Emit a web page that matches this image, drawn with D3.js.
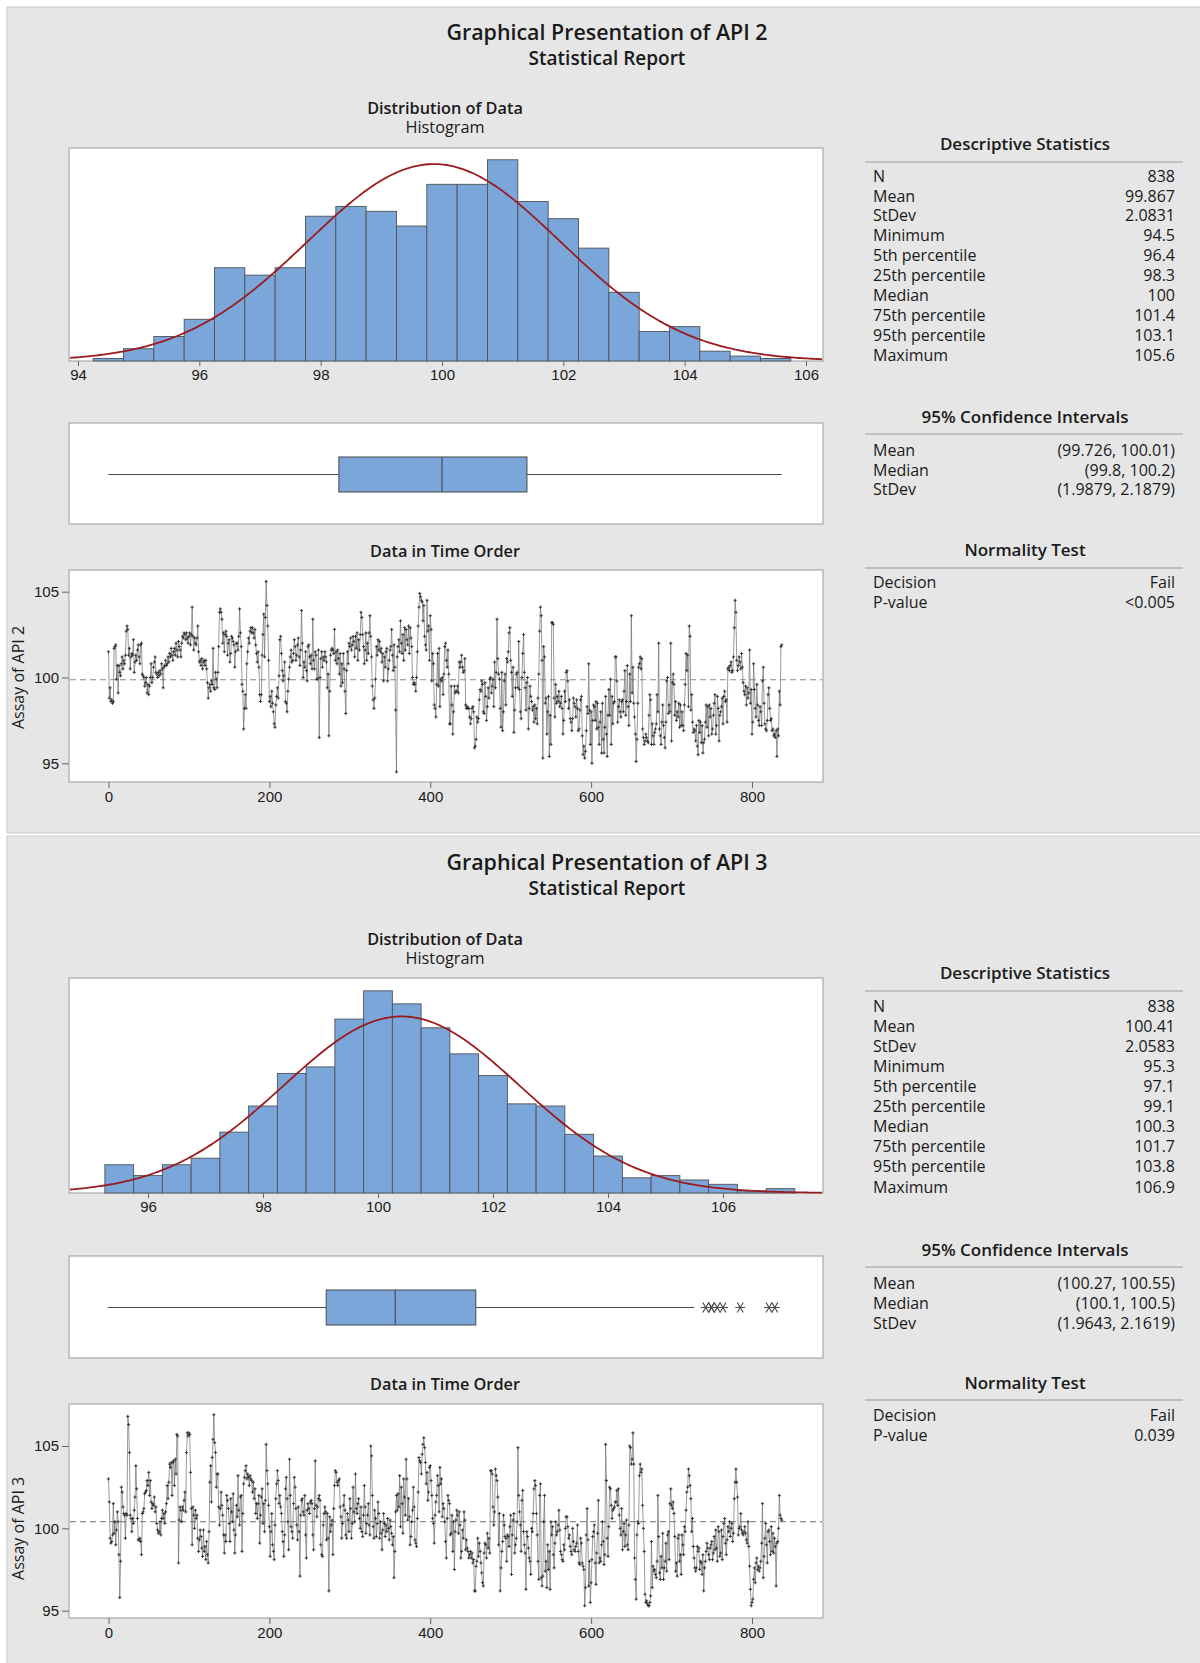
<!DOCTYPE html>
<html>
<head>
<meta charset="utf-8">
<script src="https://cdn.jsdelivr.net/npm/d3@7"></script>
<style>
body { margin: 0; background: #fff; }
svg { display: block; font-family: "Segoe UI", "Open Sans", "Noto Sans", sans-serif; }
</style>
</head>
<body>
<svg id="chart" width="1200" height="1663"></svg>
<script>
// ---- data ---------------------------------------------------------------
const api2Values = [
101.5,98.8,99.4,98.6,98.7,98.5,98.6,101.7,101.8,101.9,
99.9,100.7,99.1,100.7,100.3,100.1,100.8,101.2,100.5,101.0,
100.8,101.3,102.7,103.0,102.8,101.3,101.7,100.5,101.2,101.4,
101.3,102.2,100.3,100.9,101.3,101.0,101.6,101.9,101.2,100.8,
101.9,102.0,100.2,100.1,100.0,99.5,99.7,100.0,99.1,99.6,
99.0,99.5,100.0,100.8,99.7,100.0,100.6,100.9,101.2,100.3,
100.2,100.0,100.3,100.1,100.4,100.2,100.8,100.5,99.4,100.6,
100.7,101.0,100.7,100.8,101.2,100.9,101.4,101.2,101.7,101.3,
101.0,101.5,101.7,101.3,102.0,101.6,101.2,102.1,101.8,101.6,
101.2,102.0,102.4,102.3,102.6,102.5,102.2,102.6,102.3,102.0,
102.4,102.6,101.9,102.5,104.1,102.4,101.6,102.3,102.0,101.9,
102.3,103.0,101.5,100.9,101.0,100.7,101.1,100.5,100.9,101.0,
100.7,101.0,100.5,99.7,98.8,99.4,99.6,99.2,99.8,99.6,
101.7,99.4,99.3,100.3,99.9,99.4,100.3,101.8,103.8,104.0,
103.8,103.4,102.0,102.6,101.5,102.5,102.7,102.4,101.3,102.0,
102.2,100.9,101.4,102.4,102.3,102.1,101.9,100.6,101.5,102.0,
102.0,101.6,102.4,104.0,102.6,101.8,99.6,99.2,97.0,98.2,
99.0,98.2,100.8,101.5,102.3,102.0,102.7,102.9,102.6,102.9,
102.6,102.3,102.8,101.9,101.4,100.9,101.5,100.6,99.0,98.6,
99.0,101.3,102.5,103.7,101.2,103.5,105.6,104.2,103.0,101.0,
98.6,98.9,98.3,99.2,98.5,98.0,97.3,97.1,98.4,98.9,
99.4,98.8,100.1,102.2,102.4,101.4,100.4,99.8,100.1,100.9,
98.6,98.5,98.0,99.2,99.9,100.6,101.2,101.6,100.9,101.0,
101.4,102.2,101.8,101.0,101.3,101.9,102.3,101.2,100.7,101.6,
103.9,102.0,100.0,100.9,100.6,101.5,100.4,99.8,101.8,101.9,
101.2,100.8,101.3,100.5,103.4,101.0,100.5,101.5,101.3,99.9,
99.9,101.6,96.5,100.0,101.1,101.5,100.6,101.2,101.0,101.5,
101.2,100.9,99.4,100.2,96.6,99.2,101.3,101.6,101.7,101.6,
101.4,102.8,101.0,101.5,100.8,101.6,101.1,100.2,101.4,99.5,
100.8,99.7,101.4,100.5,99.2,97.9,100.4,101.5,100.8,102.0,
101.8,102.3,101.6,101.9,102.4,102.1,101.2,102.4,101.7,102.6,
101.0,102.2,101.6,102.5,103.8,103.5,102.5,101.8,100.8,101.6,
102.6,101.0,102.0,101.4,102.6,103.6,102.4,101.2,99.5,98.7,
98.2,98.8,99.9,101.8,101.3,102.2,101.6,102.1,101.5,101.7,
100.9,101.4,99.8,101.2,100.6,101.5,101.7,99.8,100.5,101.0,
101.6,101.8,102.8,101.3,100.4,101.9,100.6,98.1,94.5,101.2,
101.8,102.2,101.5,103.3,102.0,101.4,102.5,101.0,102.9,101.6,
102.8,102.2,101.9,103.0,101.4,102.9,102.3,101.8,100.0,99.6,
99.7,99.6,99.2,100.0,101.5,103.0,104.1,104.9,104.7,104.5,
104.4,103.3,104.2,102.4,101.9,101.6,104.5,102.7,103.0,101.0,
103.6,102.8,99.8,101.4,100.8,98.4,98.2,97.7,99.6,101.4,
99.5,101.7,98.3,99.9,99.8,100.0,99.0,100.2,101.8,102.0,
101.0,100.6,101.6,100.2,97.3,97.3,99.5,98.4,96.7,98.0,
99.5,99.1,99.2,99.2,99.5,99.1,100.9,100.6,100.9,101.3,
100.6,100.3,100.4,101.1,98.4,98.2,98.3,98.2,98.2,97.7,
97.3,97.6,98.2,98.3,98.0,95.9,96.0,96.4,97.7,97.4,
97.6,98.7,99.3,99.2,99.8,99.6,98.0,97.9,99.7,98.9,
97.5,98.3,99.4,98.8,99.9,100.0,99.1,99.5,99.9,98.3,
100.9,99.4,100.3,103.4,101.1,100.2,99.9,98.2,97.1,100.3,
96.9,98.0,99.8,100.2,98.4,101.1,100.9,101.5,102.6,102.9,
101.0,100.3,98.9,100.6,96.8,98.1,99.4,100.2,100.3,99.4,
102.1,99.3,98.0,97.6,100.0,101.4,102.5,100.3,99.4,98.1,
99.7,100.0,97.0,98.2,99.5,98.9,98.6,98.1,98.3,97.4,
98.4,97.6,98.2,97.3,98.8,100.2,102.7,104.1,103.6,101.0,
95.3,101.8,101.2,98.5,98.8,96.7,98.0,98.9,95.4,97.8,
96.1,103.2,103.2,103.1,98.8,97.7,99.6,98.5,98.9,98.6,
99.2,98.3,98.5,98.9,98.2,96.7,97.5,99.2,98.6,100.3,
100.4,99.8,98.2,98.7,97.6,97.4,96.9,97.6,98.8,98.5,
98.3,97.7,98.7,98.2,96.9,97.0,98.1,98.7,98.9,96.6,
95.5,96.0,95.3,95.7,96.9,98.3,97.9,100.8,98.1,96.1,
98.0,95.0,97.5,98.4,98.3,97.5,98.6,97.0,98.5,97.1,
96.1,97.4,98.0,95.6,98.5,96.4,95.6,97.1,98.9,96.7,
95.4,97.8,99.3,97.8,99.9,96.1,98.9,97.3,98.5,98.6,
101.2,101.2,99.8,97.4,98.3,98.7,98.0,97.7,98.6,98.7,
98.0,99.2,100.4,97.8,98.6,100.7,98.3,97.2,100.2,98.6,
103.6,99.1,100.6,98.5,97.7,96.7,95.1,96.4,98.5,100.6,
100.8,101.2,100.5,101.1,97.0,96.5,96.1,96.3,96.7,96.5,
96.3,96.2,97.8,99.0,98.7,96.1,97.3,96.6,96.1,96.8,
97.0,97.3,99.0,98.0,102.0,97.0,96.6,96.1,97.4,98.4,
97.2,96.5,95.9,97.4,99.8,100.0,97.9,98.4,98.0,102.0,
96.3,99.7,100.2,99.6,97.8,98.6,97.5,98.0,97.7,98.5,
97.1,98.4,97.2,98.0,97.2,96.9,98.4,99.6,101.4,100.4,
101.3,98.3,103.0,102.4,98.1,99.0,97.4,96.8,97.0,96.9,
96.3,97.2,96.0,95.5,97.5,96.8,97.4,96.2,97.2,95.6,
96.2,96.4,97.4,98.4,97.1,98.3,96.6,98.4,97.7,98.2,
96.7,97.0,97.8,98.5,99.0,96.7,97.2,98.9,98.2,96.3,
97.8,98.0,98.3,98.8,97.3,98.9,99.2,98.6,98.7,97.4,
100.5,100.6,100.4,100.7,100.9,100.3,100.4,101.2,102.9,104.5,
103.8,101.0,100.4,100.7,101.2,100.9,100.5,101.4,100.6,99.7,
99.2,99.0,99.5,98.4,99.4,98.8,99.1,101.6,98.5,99.3,
96.7,97.4,100.8,99.3,98.2,97.7,99.6,98.4,97.5,97.2,
98.3,98.0,97.2,99.8,100.6,98.5,97.3,97.0,96.9,97.5,
99.0,99.4,98.2,97.5,97.6,96.9,97.0,96.6,96.7,96.5,
96.9,95.4,97.0,96.6,99.2,98.4,101.8,101.9
];

const api3Values = [
103.0,101.6,99.4,99.1,99.2,99.6,101.5,99.7,100.4,99.0,
99.9,101.0,100.4,98.4,95.8,98.0,102.5,102.2,101.3,100.9,
100.8,99.4,100.9,100.8,106.8,106.3,104.6,100.8,100.6,99.8,
100.6,100.3,101.1,101.9,103.8,102.4,100.6,99.3,99.3,99.4,
99.2,98.4,100.9,101.0,101.2,102.1,102.2,102.3,102.9,102.6,
103.4,102.0,102.9,101.6,101.2,101.5,101.4,101.9,101.0,101.3,
100.3,99.9,99.7,99.8,100.4,99.6,100.6,101.1,100.6,100.9,
100.3,101.0,101.5,102.6,101.8,102.8,103.9,103.7,104.0,102.0,
104.0,104.1,102.6,104.2,103.3,105.7,105.6,97.9,100.5,101.3,
101.1,100.4,101.3,101.1,101.7,102.2,101.0,104.6,105.8,105.6,
105.8,105.7,103.4,101.2,99.0,101.3,100.8,100.0,101.1,100.6,
100.8,99.4,98.6,99.3,99.9,99.5,98.8,98.3,99.9,98.6,
98.9,98.1,99.2,98.4,97.9,99.8,102.8,103.8,101.6,104.3,
105.4,106.9,105.2,104.6,102.5,103.3,103.3,101.3,100.2,101.2,
102.2,101.4,100.8,99.6,98.5,99.6,99.2,102.0,101.7,101.2,
100.3,99.2,101.8,101.0,100.4,102.1,99.9,98.5,99.6,101.4,
100.7,103.2,101.1,100.2,101.9,102.0,98.6,100.9,102.7,103.1,
103.5,103.8,103.0,103.3,103.1,102.6,103.2,103.0,102.9,102.2,
102.8,101.8,102.4,100.9,101.5,100.6,101.5,102.0,99.1,100.8,
101.9,102.4,100.3,101.5,99.8,101.7,105.1,103.5,102.7,101.4,
100.1,98.3,99.8,100.9,99.0,98.6,98.1,100.2,101.8,102.7,
103.5,102.9,101.5,102.0,101.3,100.9,99.8,99.2,98.3,99.6,
102.4,103.1,101.8,100.4,98.7,104.2,102.0,100.1,99.8,99.4,
101.5,103.1,102.5,101.2,100.2,99.3,101.3,99.8,97.1,100.8,
101.7,101.8,101.0,100.8,102.0,99.6,98.2,101.1,101.5,101.2,
100.9,101.6,101.7,101.5,99.6,98.7,101.2,104.1,101.4,100.7,
101.3,101.8,102.0,101.7,99.0,98.4,98.3,100.2,100.9,101.3,
101.0,99.3,100.9,99.4,96.2,100.7,99.8,100.2,100.5,98.4,
101.2,102.6,103.5,103.4,102.8,102.6,102.9,103.0,101.3,100.7,
99.4,100.3,101.4,102.0,101.1,99.6,99.4,100.9,100.5,99.8,
101.8,101.2,99.4,100.3,102.5,101.0,100.4,103.3,101.2,100.9,
101.5,101.8,100.6,100.0,101.3,99.8,99.5,100.8,102.6,101.3,
99.7,100.3,100.8,101.5,100.2,99.6,105.0,104.4,102.0,100.1,
99.4,101.1,100.6,99.5,100.3,101.6,100.9,99.4,100.4,99.7,
98.7,99.9,100.9,100.3,99.5,100.2,99.8,100.6,100.0,99.3,
100.5,100.1,99.7,99.0,99.5,97.0,98.6,101.0,102.0,101.1,
102.1,101.3,103.2,100.1,102.5,101.5,99.7,103.0,101.9,100.8,
104.2,103.0,100.5,101.8,100.7,99.0,99.5,100.4,101.1,102.5,
101.3,99.3,99.1,98.9,100.6,102.2,104.3,104.1,104.0,103.3,
104.5,105.1,105.5,104.9,104.0,102.7,103.4,101.7,102.2,103.7,
103.8,102.9,102.0,100.6,100.3,99.1,100.8,101.6,102.0,103.2,
102.6,101.0,103.7,102.7,103.0,100.7,101.5,101.2,100.4,99.2,
98.2,100.6,102.0,101.7,101.5,99.6,99.7,100.8,98.6,100.4,
97.5,99.8,100.5,101.1,100.8,99.7,101.0,100.2,98.2,98.6,
99.9,99.4,101.0,100.5,98.7,99.3,98.8,98.6,98.2,98.4,
98.6,98.2,98.5,97.9,98.1,96.2,96.2,97.7,98.0,99.4,
98.3,99.1,98.6,97.9,97.3,96.7,96.5,98.5,99.1,99.0,
98.2,99.7,98.8,99.4,98.5,103.5,103.5,103.3,101.3,100.2,
101.0,103.6,103.2,102.9,101.9,99.0,100.9,96.2,97.6,98.6,
99.2,100.8,100.2,99.5,99.4,98.0,99.6,99.5,98.9,100.1,
100.8,97.2,99.6,100.5,100.9,98.5,99.0,99.4,100.4,104.9,
102.0,101.0,100.2,98.6,101.7,102.3,99.8,99.0,98.5,96.3,
99.8,99.5,98.8,98.2,98.0,97.2,100.0,99.8,100.9,102.4,
102.9,102.6,100.9,99.6,98.0,96.9,102.0,102.7,97.0,96.5,
97.1,100.4,102.0,97.4,98.0,96.4,99.0,97.5,98.6,96.3,
100.4,99.6,100.1,98.4,97.6,99.1,100.4,99.6,99.8,100.2,
101.1,99.9,98.6,98.4,98.1,98.0,99.0,98.7,100.0,100.7,
100.7,100.1,99.4,99.6,98.9,98.6,98.4,100.0,99.2,98.7,
98.6,98.9,99.1,100.2,98.6,97.9,97.8,99.4,99.1,97.9,
97.7,97.5,95.3,96.4,99.6,101.2,99.3,96.5,98.0,95.5,
96.7,98.1,99.5,99.8,100.2,97.9,96.6,98.5,99.7,101.7,
97.9,98.2,98.0,99.0,100.4,99.2,97.8,98.4,105.1,102.9,
99.4,98.3,100.1,102.5,102.4,101.4,100.6,101.1,101.2,101.3,
101.6,101.6,102.3,101.4,102.4,100.8,100.0,99.6,101.2,98.7,
99.8,100.3,98.9,99.6,100.5,99.0,98.7,100.2,105.0,104.9,
103.9,104.2,105.8,103.9,98.2,96.9,95.7,99.6,100.4,100.3,
103.2,103.9,103.4,103.6,101.4,100.0,98.6,96.0,95.5,95.6,
95.4,95.3,95.3,95.5,95.9,99.2,96.4,97.7,97.4,97.5,
97.2,97.0,98.0,102.0,99.5,97.3,96.9,98.3,97.6,99.7,
96.9,97.6,98.0,99.1,97.4,99.6,99.8,98.1,101.5,102.4,
101.4,101.2,101.6,100.9,99.5,97.4,97.9,97.1,99.4,99.6,
98.0,98.4,97.2,99.6,99.0,98.4,100.1,99.8,101.1,102.2,
102.5,103.6,103.2,102.6,101.8,99.8,100.6,98.9,98.2,97.6,
97.4,97.6,98.9,98.6,98.8,97.5,98.0,97.9,97.2,98.4,
96.2,97.6,98.0,98.6,99.1,98.8,98.4,98.1,98.8,99.0,
99.2,98.1,98.5,99.5,98.7,99.9,98.8,98.0,100.1,99.8,
98.3,98.5,99.9,98.1,99.5,100.3,100.6,99.1,98.4,99.3,
100.1,99.8,100.4,99.5,100.0,100.3,99.2,99.7,101.8,102.8,
103.6,102.8,101.9,99.6,100.0,100.1,100.9,99.9,99.7,99.6,
99.8,100.1,99.7,99.3,99.1,100.4,98.9,97.7,96.3,95.3,
95.5,95.7,96.9,97.6,96.7,97.9,98.2,97.5,97.7,97.4,
97.6,98.0,99.1,101.5,97.0,98.3,99.4,100.3,99.0,97.9,
99.8,99.9,99.2,98.4,100.1,98.6,99.7,98.5,99.4,98.9,
96.5,99.1,99.2,100.0,102.0,100.8,100.6,100.5
];

// histogram: bin midpoints (width 0.5) and counts
const api2BinMids = [94.5,95,95.5,96,96.5,97,97.5,98,98.5,99,99.5,100,100.5,101,101.5,102,102.5,103,103.5,104,104.5,105,105.5];
const api2Counts  = [1,5,10,17,38,35,38,59,63,61,55,72,72,82,65,58,46,28,12,14,4,2,1];
const api3BinMids = [95.5,96,96.5,97,97.5,98,98.5,99,99.5,100,100.5,101,101.5,102,102.5,103,103.5,104,104.5,105,105.5,106,106.5,107];
const api3Counts  = [13,8,13,16,28,40,55,58,80,93,87,76,64,54,41,40,27,17,7,8,6,4,1,2];

// boxplot: whisker low, Q1, median, Q3, whisker high
const api2Box = [94.5, 98.3, 100, 101.4, 105.6];
const api3Box = [95.3, 99.1, 100.3, 101.7, 105.5];
const api2Outliers = [];
const api3Outliers = [105.7, 105.8, 105.8, 105.9, 106.0, 106.3, 106.8, 106.9];

// tick labels
const api2HistTicks = [94, 96, 98, 100, 102, 104, 106];
const api3HistTicks = [96, 98, 100, 102, 104, 106];
const timeTicks = [0, 200, 400, 600, 800];
const assayTicks = [95, 100, 105];

// statistics tables
const descLabels = ['N', 'Mean', 'StDev', 'Minimum', '5th percentile', '25th percentile',
    'Median', '75th percentile', '95th percentile', 'Maximum'];
const api2Desc = ['838', '99.867', '2.0831', '94.5', '96.4', '98.3', '100', '101.4', '103.1', '105.6'];
const api3Desc = ['838', '100.41', '2.0583', '95.3', '97.1', '99.1', '100.3', '101.7', '103.8', '106.9'];
const ciLabels = ['Mean', 'Median', 'StDev'];
const api2CI = ['(99.726, 100.01)', '(99.8, 100.2)', '(1.9879, 2.1879)'];
const api3CI = ['(100.27, 100.55)', '(100.1, 100.5)', '(1.9643, 2.1619)'];
const normLabels = ['Decision', 'P-value'];
const api2Norm = ['Fail', '<0.005'];
const api3Norm = ['Fail', '0.039'];

// ---- drawing --------------------------------------------------------------
const svg = d3.select('#chart');
const FRAME_L = 69, FRAME_R = 823;
const BLUE = '#7ba6da', EDGE = '#4f5257', CURVE = '#9a1c1f';

const panels = [
    {
        name: 'API 2', values: api2Values, mids: api2BinMids, counts: api2Counts,
        box: api2Box, outliers: api2Outliers, histTicks: api2HistTicks,
        desc: api2Desc, ci: api2CI, norm: api2Norm,
        top: 7, bottom: 833,
        title: 33, sub: 58, dist: 108, hist: 127,
        hTop: 148, hBot: 361, hDom: [94, 106], hRange: [78, 806], hMax: 86.8,
        bTop: 423, bBot: 524, bY0: 457, bY1: 492,
        tTitle: 551, tTop: 570, tBot: 782, yTick: [763.3, 591.7],
        dTitle: 144, dLine: 162, dRow: 176, dStep: 19.9,
        cTitle: 417, cLine: 434, cRow: 450,
        nTitle: 550, nLine: 568, nRow: 582
    },
    {
        name: 'API 3', values: api3Values, mids: api3BinMids, counts: api3Counts,
        box: api3Box, outliers: api3Outliers, histTicks: api3HistTicks,
        desc: api3Desc, ci: api3CI, norm: api3Norm,
        top: 836, bottom: 1670,
        title: 863, sub: 888, dist: 939, hist: 958,
        hTop: 978, hBot: 1193, hDom: [96, 106], hRange: [148, 723], hMax: 98.9,
        bTop: 1256, bBot: 1358, bY0: 1290, bY1: 1325,
        tTitle: 1384, tTop: 1404, tBot: 1618, yTick: [1610.7, 1446],
        dTitle: 973, dLine: 991, dRow: 1006, dStep: 20.1,
        cTitle: 1250, cLine: 1267, cRow: 1283,
        nTitle: 1383, nLine: 1400, nRow: 1415
    }
];

const text = (g, x, y, str, size, weight, anchor) =>
    g.append('text')
        .attr('x', x).attr('y', y)
        .attr('dy', '0.35em')
        .attr('text-anchor', anchor || 'middle')
        .attr('font-size', size)
        .attr('font-weight', weight || 400)
        .attr('fill', '#1a1a1a')
        .text(str);

const frame = (g, y0, y1) =>
    g.append('rect')
        .attr('x', FRAME_L).attr('y', y0)
        .attr('width', FRAME_R - FRAME_L).attr('height', y1 - y0)
        .attr('fill', '#fff')
        .attr('stroke', '#a9a9a9')
        .attr('stroke-width', 1.2);

const styleAxis = (a) => {
    a.select('.domain').remove();
    a.selectAll('line').attr('stroke', '#666');
    a.selectAll('text').attr('font-size', 15).attr('fill', '#1a1a1a').attr('font-family', 'inherit');
};

panels.forEach(function (p) {
    const g = svg.append('g');

    g.append('rect')
        .attr('x', 7).attr('y', p.top)
        .attr('width', 1200).attr('height', p.bottom - p.top)
        .attr('fill', '#e6e6e6')
        .attr('stroke', '#c9c9c9');

    text(g, 607, p.title, 'Graphical Presentation of ' + p.name, 21.4, 600);
    text(g, 607, p.sub, 'Statistical Report', 19, 600);
    text(g, 445, p.dist, 'Distribution of Data', 16.3, 600);
    text(g, 445, p.hist, 'Histogram', 16.3, 400);

    // ---- histogram
    const mean = +p.desc[1], sd = +p.desc[2], n = +p.desc[0];
    const x = d3.scaleLinear().domain(p.hDom).range(p.hRange);
    const y = d3.scaleLinear().domain([0, p.hMax]).range([p.hBot, p.hTop]);
    const binW = p.mids[1] - p.mids[0];

    frame(g, p.hTop, p.hBot);

    g.selectAll('.bar')
        .data(p.mids)
        .enter()
        .append('rect')
        .attr('x', (d) => x(d - binW / 2))
        .attr('y', (d, i) => y(p.counts[i]))
        .attr('width', (d) => x(d + binW / 2) - x(d - binW / 2))
        .attr('height', (d, i) => p.hBot - y(p.counts[i]))
        .attr('fill', BLUE)
        .attr('stroke', EDGE)
        .attr('stroke-width', 0.9);

    const xLo = x.invert(FRAME_L + 1), xHi = x.invert(FRAME_R - 1);
    const curve = d3.range(0, 301).map(function (i) {
        const v = xLo + (xHi - xLo) * i / 300;
        const dens = Math.exp(-0.5 * Math.pow((v - mean) / sd, 2)) / (sd * Math.sqrt(2 * Math.PI));
        return [x(v), y(n * binW * dens)];
    });
    g.append('path')
        .attr('d', d3.line()(curve))
        .attr('fill', 'none')
        .attr('stroke', CURVE)
        .attr('stroke-width', 1.8);

    g.append('g')
        .attr('transform', 'translate(0,' + p.hBot + ')')
        .call(d3.axisBottom(x).tickValues(p.histTicks).tickSize(5).tickFormat(d3.format('d')))
        .call(styleAxis);

    // ---- boxplot
    frame(g, p.bTop, p.bBot);
    const bMid = (p.bY0 + p.bY1) / 2;
    g.append('line')
        .attr('x1', x(p.box[0])).attr('x2', x(p.box[1]))
        .attr('y1', bMid).attr('y2', bMid)
        .attr('stroke', '#4a4a4a').attr('stroke-width', 1.2);
    g.append('line')
        .attr('x1', x(p.box[3])).attr('x2', x(p.box[4]))
        .attr('y1', bMid).attr('y2', bMid)
        .attr('stroke', '#4a4a4a').attr('stroke-width', 1.2);
    g.append('rect')
        .attr('x', x(p.box[1])).attr('y', p.bY0)
        .attr('width', x(p.box[3]) - x(p.box[1])).attr('height', p.bY1 - p.bY0)
        .attr('fill', BLUE).attr('stroke', EDGE).attr('stroke-width', 1.1);
    g.append('line')
        .attr('x1', x(p.box[2])).attr('x2', x(p.box[2]))
        .attr('y1', p.bY0).attr('y2', p.bY1)
        .attr('stroke', EDGE).attr('stroke-width', 1.3);

    p.outliers.forEach(function (v) {
        const cx = x(v), r = 5;
        g.append('path')
            .attr('d', 'M' + (cx - r) + ',' + bMid + 'H' + (cx + r) +
                'M' + (cx - r * 0.6) + ',' + (bMid - r) + 'L' + (cx + r * 0.6) + ',' + (bMid + r) +
                'M' + (cx - r * 0.6) + ',' + (bMid + r) + 'L' + (cx + r * 0.6) + ',' + (bMid - r))
            .attr('stroke', '#4e4e4e')
            .attr('stroke-width', 1.2)
            .attr('fill', 'none');
    });

    // ---- time series
    text(g, 445, p.tTitle, 'Data in Time Order', 16.3, 600);
    frame(g, p.tTop, p.tBot);
    const tx = d3.scaleLinear().domain([0, 800]).range([108.5, 752]);
    const ty = d3.scaleLinear().domain([95, 105]).range(p.yTick);

    g.append('line')
        .attr('x1', FRAME_L + 1).attr('x2', FRAME_R - 1)
        .attr('y1', ty(mean)).attr('y2', ty(mean))
        .attr('stroke', '#8c8c8c')
        .attr('stroke-width', 1.1)
        .attr('stroke-dasharray', '6,4');

    g.append('path')
        .attr('d', d3.line().x((d, i) => tx(i)).y((d) => ty(d))(p.values))
        .attr('fill', 'none')
        .attr('stroke', '#6e6e6e')
        .attr('stroke-width', 0.7);

    g.selectAll('.pt')
        .data(p.values)
        .enter()
        .append('path')
        .attr('d', (d, i) => {
            const cx = tx(i), cy = ty(d), r = 1.6;
            return 'M' + (cx - r) + ',' + cy + 'H' + (cx + r) + 'M' + cx + ',' + (cy - r) + 'V' + (cy + r);
        })
        .attr('stroke', '#2e2e2e')
        .attr('stroke-width', 0.9);

    g.append('g')
        .attr('transform', 'translate(0,' + p.tBot + ')')
        .call(d3.axisBottom(tx).tickValues(timeTicks).tickSize(6))
        .call(styleAxis);

    g.append('g')
        .attr('transform', 'translate(' + FRAME_L + ',0)')
        .call(d3.axisLeft(ty).tickValues(assayTicks).tickSize(7))
        .call(styleAxis);

    g.append('text')
        .attr('transform', 'translate(18,' + ty(100) + ') rotate(-90)')
        .attr('text-anchor', 'middle')
        .attr('dy', '0.35em')
        .attr('font-size', 16)
        .attr('fill', '#1a1a1a')
        .text('Assay of ' + p.name);

    // ---- tables on the right
    const table = function (titleY, lineY, rowY, step, labels, vals, title) {
        text(g, 1025, titleY, title, 17, 600);
        g.append('line')
            .attr('x1', 865).attr('x2', 1183)
            .attr('y1', lineY).attr('y2', lineY)
            .attr('stroke', '#9a9a9a').attr('stroke-width', 1.2);
        labels.forEach(function (l, i) {
            text(g, 873, rowY + i * step, l, 16, 400, 'start');
            text(g, 1175, rowY + i * step, vals[i], 16, 400, 'end');
        });
    };
    table(p.dTitle, p.dLine, p.dRow, p.dStep, descLabels, p.desc, 'Descriptive Statistics');
    table(p.cTitle, p.cLine, p.cRow, p.dStep, ciLabels, p.ci, '95% Confidence Intervals');
    table(p.nTitle, p.nLine, p.nRow, p.dStep, normLabels, p.norm, 'Normality Test');
});
</script>
</body>
</html>
